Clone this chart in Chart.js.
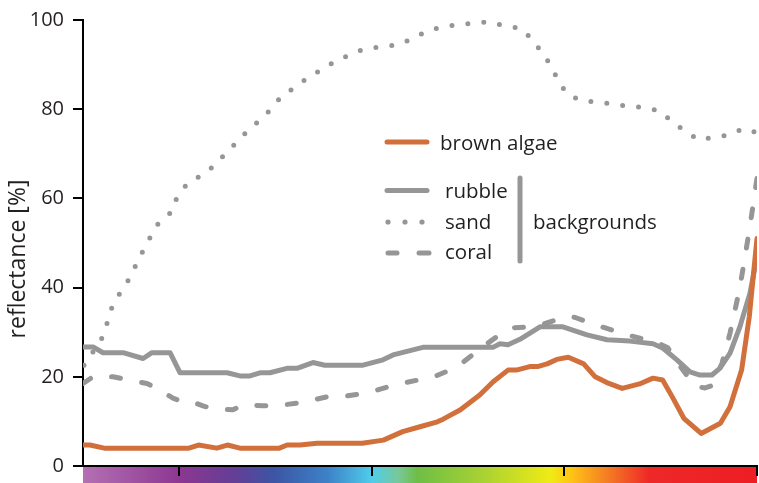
<!DOCTYPE html>
<html>
<head>
<meta charset="utf-8">
<script src="https://cdn.jsdelivr.net/npm/chart.js@4.4.1/dist/chart.umd.min.js"></script>
<style>
  html, body { margin: 0; padding: 0; background: #fff; }
  #wrap { width: 759px; height: 483px; position: relative; }
</style>
</head>
<body>
<div id="wrap"><canvas id="c" width="759" height="483"></canvas></div>
<script>
// ---- data (wavelength in nm, reflectance in %) ----
const xTicks = [450, 550, 650, 750];
const yTicks = [0, 20, 40, 60, 80, 100];

const algaeNm = [400, 403.6, 411, 455, 460, 469.5, 475, 481.5, 502, 506, 512.7, 521.5, 545, 556, 566, 575, 584, 587, 596, 606, 613, 620.7, 625, 632, 636, 641, 646, 652, 660, 666, 672, 680, 689, 696, 701, 706, 712, 721, 731, 736, 742, 746, 750];
const algaeR  = [4.7, 4.7, 4.0, 4.0, 4.7, 4.0, 4.7, 4.0, 4.0, 4.7, 4.7, 5.1, 5.1, 5.8, 7.7, 8.8, 9.9, 10.5, 12.6, 15.9, 18.9, 21.5, 21.5, 22.3, 22.3, 22.9, 23.9, 24.4, 22.9, 20.0, 18.7, 17.4, 18.4, 19.7, 19.3, 15.5, 10.7, 7.3, 9.6, 13.3, 21.5, 33.5, 51];

const rubbleNm = [400, 405.2, 410.4, 420.8, 431.2, 435.8, 445.2, 450.4, 474.8, 481.5, 486.7, 491.9, 497.1, 505.9, 511.1, 519.4, 525.6, 545.4, 555.8, 561, 576.5, 606.1, 612.9, 616.5, 620.7, 626.9, 632.1, 637.3, 649.2, 661.7, 672.1, 684, 696, 701.2, 708.4, 715.2, 720.4, 726.6, 730.7, 736, 741.1, 746.3, 750];
const rubbleR  = [26.7, 26.7, 25.4, 25.4, 24.1, 25.4, 25.4, 20.9, 20.9, 20.2, 20.2, 20.9, 20.9, 21.9, 21.9, 23.2, 22.6, 22.6, 23.8, 24.9, 26.6, 26.6, 26.6, 27.4, 27.2, 28.4, 29.8, 31.2, 31.2, 29.4, 28.3, 28.0, 27.4, 26.4, 23.8, 21.1, 20.4, 20.4, 21.9, 25.3, 31.2, 38.7, 46.9];

const sandNm = [400.5, 405.2, 409.9, 412.5, 415.1, 419.2, 423.9, 427.5, 431.2, 435.3, 439.5, 446.2, 448.8, 454, 460.7, 467.5, 473.2, 479.4, 485.1, 491.4, 497.6, 502.8, 509.6, 516.3, 523.6, 530.8, 538.6, 545.9, 554.7, 563, 570.8, 578.1, 586.4, 594.2, 602.5, 610.8, 619.1, 627.4, 633.1, 638.3, 643, 646.6, 651.3, 658.6, 666.9, 675.2, 683.5, 691.8, 700.1, 706.3, 713.1, 719.8, 727.6, 735.4, 743.2, 750];
const sandR  = [22.6, 25.6, 28.7, 32.0, 35.7, 38.8, 41.9, 45.1, 48.3, 51.6, 54.7, 57.0, 60.3, 63.2, 65.0, 67.1, 69.7, 72.4, 75.0, 77.4, 80.0, 82.8, 84.8, 86.9, 88.8, 90.7, 92.2, 93.5, 94.0, 94.4, 95.7, 97.4, 98.5, 98.9, 99.3, 99.6, 98.7, 98.1, 95.7, 92.7, 89.8, 86.5, 83.4, 81.9, 81.6, 81.2, 80.6, 80.4, 79.5, 77.0, 75.0, 73.1, 73.7, 74.2, 75.7, 74.7];

const coralNm = [400, 405.2, 415.6, 422.8, 433.2, 438.4, 446.7, 450.4, 454, 462.3, 467.5, 477.9, 483.1, 493.5, 500.7, 512.7, 526.7, 533.4, 547, 562, 578.6, 581.7, 594.2, 607.2, 616.5, 623.3, 634.7, 650.8, 655.6, 666.5, 682.4, 697.5, 703.7, 710, 717.7, 723, 726.6, 731.8, 736, 741.1, 746.3, 750];
const coralR  = [18.5, 20.0, 20.0, 19.4, 18.5, 17.4, 15.2, 14.6, 14.8, 13.5, 12.8, 12.6, 13.7, 13.5, 13.5, 14.2, 15.5, 15.5, 16.3, 18.2, 19.7, 19.9, 22.2, 26.6, 29.5, 31.0, 31.2, 33.5, 33.3, 31.6, 29.4, 27.8, 26.5, 22.4, 17.9, 17.5, 18.0, 23.0, 29.8, 40, 53.6, 64.5];

const seriesNames = ['brown algae', 'rubble', 'sand', 'coral'];
const groupLabel = 'backgrounds';
const yTitle = 'reflectance [%]';

// ---- styles ----
const ORANGE = '#d2703c';
const GRAY = '#969696';
const TEXT = '#231f20';
const FONT = '"Open Sans", "Noto Sans", sans-serif';

const pts = (xs, ys) => xs.map((x, i) => ({ x: x, y: ys[i] }));

const decor = {
  id: 'decor',
  beforeDraw(chart) {
    const { ctx, chartArea: a } = chart;
    const g = ctx.createLinearGradient(a.left, 0, a.right, 0);
    const stops = [
      [0, 'rgb(180,112,180)'], [0.144, 'rgb(140,55,145)'], [0.224, 'rgb(100,62,150)'],
      [0.283, 'rgb(60,85,165)'], [0.363, 'rgb(60,130,200)'], [0.429, 'rgb(80,205,235)'],
      [0.469, 'rgb(120,200,150)'], [0.496, 'rgb(110,190,70)'], [0.595, 'rgb(170,210,50)'],
      [0.694, 'rgb(240,235,20)'], [0.721, 'rgb(255,200,20)'], [0.774, 'rgb(245,130,35)'],
      [0.84, 'rgb(238,40,40)'], [1, 'rgb(237,30,36)']
    ];
    stops.forEach(s => g.addColorStop(s[0], s[1]));
    ctx.save();
    ctx.fillStyle = g;
    ctx.fillRect(a.left, a.bottom + 1, a.right - a.left, chart.height - a.bottom - 1);
    ctx.restore();
  },
  afterDraw(chart) {
    const ctx = chart.ctx;
    ctx.save();
    // y title
    ctx.fillStyle = TEXT;
    ctx.font = '23px ' + FONT;
    ctx.translate(25, 259);
    ctx.rotate(-Math.PI / 2);
    ctx.textAlign = 'center';
    ctx.textBaseline = 'alphabetic';
    ctx.fillText(yTitle, 0, 0);
    ctx.restore();

    // legend
    ctx.save();
    ctx.lineCap = 'round';
    ctx.lineWidth = 5;
    ctx.strokeStyle = ORANGE;
    ctx.beginPath(); ctx.moveTo(387, 142); ctx.lineTo(427, 142); ctx.stroke();
    ctx.strokeStyle = GRAY;
    ctx.beginPath(); ctx.moveTo(387, 190.5); ctx.lineTo(427, 190.5); ctx.stroke();
    ctx.fillStyle = GRAY;
    [388, 405, 422].forEach(x => { ctx.beginPath(); ctx.arc(x, 222, 2.6, 0, Math.PI * 2); ctx.fill(); });
    ctx.beginPath(); ctx.moveTo(388, 253); ctx.lineTo(397, 253); ctx.stroke();
    ctx.beginPath(); ctx.moveTo(419, 253); ctx.lineTo(429, 253); ctx.stroke();
    ctx.beginPath(); ctx.moveTo(520, 178); ctx.lineTo(520, 261); ctx.stroke();

    ctx.fillStyle = TEXT;
    ctx.font = '20.5px ' + FONT;
    ctx.textAlign = 'left';
    ctx.textBaseline = 'alphabetic';
    ctx.fillText(seriesNames[0], 440, 150);
    ctx.fillText(seriesNames[1], 445, 198);
    ctx.fillText(seriesNames[2], 445, 228.5);
    ctx.fillText(seriesNames[3], 445, 259);
    ctx.fillText(groupLabel, 533, 228.5);
    ctx.restore();
  }
};

new Chart(document.getElementById('c'), {
  type: 'line',
  data: {
    datasets: [
      { label: seriesNames[0], data: pts(algaeNm, algaeR), borderColor: ORANGE, borderWidth: 5, order: 0,
        borderJoinStyle: 'round', borderCapStyle: 'round' },
      { label: seriesNames[3], data: pts(coralNm, coralR), borderColor: GRAY, borderWidth: 5, order: 1,
        borderDash: [9, 21.6], borderCapStyle: 'round', borderJoinStyle: 'round' },
      { label: seriesNames[1], data: pts(rubbleNm, rubbleR), borderColor: GRAY, borderWidth: 5, order: 2,
        borderJoinStyle: 'round', borderCapStyle: 'round' },
      { label: seriesNames[2], data: pts(sandNm, sandR), borderColor: GRAY, borderWidth: 5, order: 3,
        borderDash: [0, 16], borderCapStyle: 'round', borderJoinStyle: 'round' }
    ]
  },
  options: {
    responsive: false,
    animation: false,
    elements: { point: { radius: 0 }, line: { tension: 0, fill: false } },
    layout: { padding: { top: 20, right: 2, left: 0, bottom: 0 } },
    plugins: { legend: { display: false }, tooltip: { enabled: false } },
    scales: {
      x: {
        type: 'linear', min: 400, max: 750,
        afterBuildTicks: s => { s.ticks = xTicks.map(v => ({ value: v })); },
        afterFit: s => { s.height = 17; },
        ticks: { display: false },
        grid: { drawOnChartArea: false, drawTicks: true, tickLength: 10, color: '#000', lineWidth: 2 },
        border: { color: '#000', width: 2 }
      },
      y: {
        type: 'linear', min: 0, max: 100,
        afterBuildTicks: s => { s.ticks = yTicks.map(v => ({ value: v })); },
        afterFit: s => { s.width = 83; },
        ticks: { padding: 9, color: TEXT, font: { family: FONT, size: 20, lineHeight: 0.5 } },
        grid: { drawOnChartArea: false, drawTicks: true, tickLength: 10, color: '#000', lineWidth: 2 },
        border: { color: '#000', width: 2 }
      }
    }
  },
  plugins: [decor]
});
</script>
</body>
</html>
